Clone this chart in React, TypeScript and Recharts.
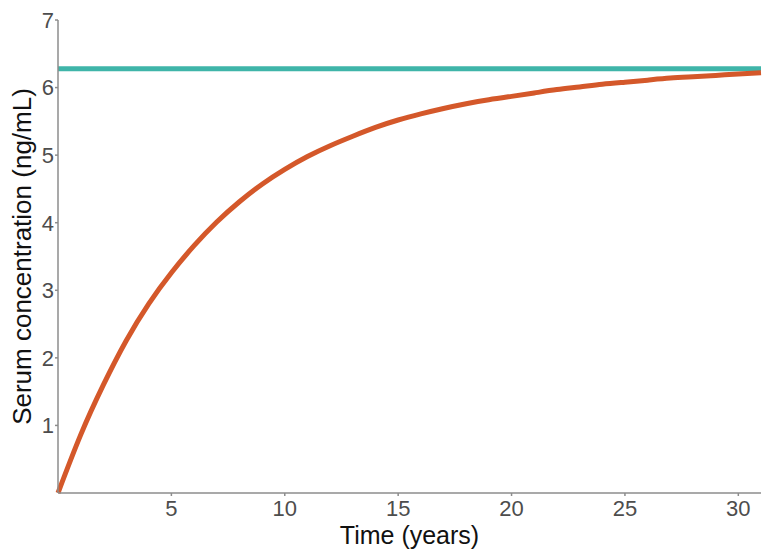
import { LineChart, Line, XAxis, YAxis, ReferenceLine } from "recharts";

// years since start
const years = [
    0, 1, 2, 3, 4, 5, 6, 7, 8, 9, 10, 11, 12, 13, 14, 15, 16, 17, 18, 19, 20,
    21, 22, 23, 24, 25, 26, 27, 28, 29, 30, 31,
];
// serum concentration (ng/mL)
const serum = [
    0, 0.86, 1.6, 2.25, 2.8, 3.26, 3.66, 4.01, 4.31, 4.57, 4.79, 4.98, 5.14,
    5.28, 5.41, 5.52, 5.61, 5.69, 5.76, 5.82, 5.87, 5.92, 5.97, 6.01, 6.05,
    6.08, 6.11, 6.14, 6.16, 6.18, 6.2, 6.22,
];
const steadyState = 6.28;
const xTicks = [5, 10, 15, 20, 25, 30];
const yTicks = [1, 2, 3, 4, 5, 6, 7];

const data = years.map((t, i) => ({ t, conc: serum[i] }));

const font = "Liberation Sans, Arial, sans-serif";
const tickStyle = { fill: "#4d4d4d", fontSize: 22, fontFamily: font };

const App = () => {
    return (
        <div style={{ position: "absolute", left: 0, top: 0, background: "#fff" }}>
            <LineChart
                width={769}
                height={556}
                data={data}
                margin={{ top: 20, right: 8, left: 0, bottom: 0 }}
            >
                <XAxis
                    dataKey="t"
                    type="number"
                    domain={[0, 31]}
                    ticks={xTicks}
                    height={63}
                    stroke="#8c8c8c"
                    strokeWidth={1.5}
                    tickSize={3}
                    tickMargin={4}
                    tick={tickStyle}
                    label={{
                        value: "Time (years)",
                        position: "insideBottom",
                        offset: 12,
                        fill: "#111",
                        fontSize: 25,
                        fontFamily: font,
                    }}
                />
                <YAxis
                    type="number"
                    domain={[0, 7]}
                    ticks={yTicks}
                    width={58}
                    stroke="#8c8c8c"
                    strokeWidth={1.5}
                    tickSize={3}
                    tickMargin={1}
                    tick={tickStyle}
                    label={({ viewBox }: any) => (
                        <text
                            x={31}
                            y={viewBox.y + viewBox.height / 2}
                            transform={`rotate(-90, 31, ${viewBox.y + viewBox.height / 2})`}
                            textAnchor="middle"
                            fill="#111"
                            fontSize={26}
                            fontFamily={font}
                        >
                            Serum concentration (ng/mL)
                        </text>
                    )}
                />
                <ReferenceLine y={steadyState} stroke="#3fb5a9" strokeWidth={5} />
                <Line
                    type="natural"
                    dataKey="conc"
                    stroke="#d4582a"
                    strokeWidth={5}
                    dot={false}
                    isAnimationActive={false}
                />
            </LineChart>
        </div>
    );
};

export default App;
